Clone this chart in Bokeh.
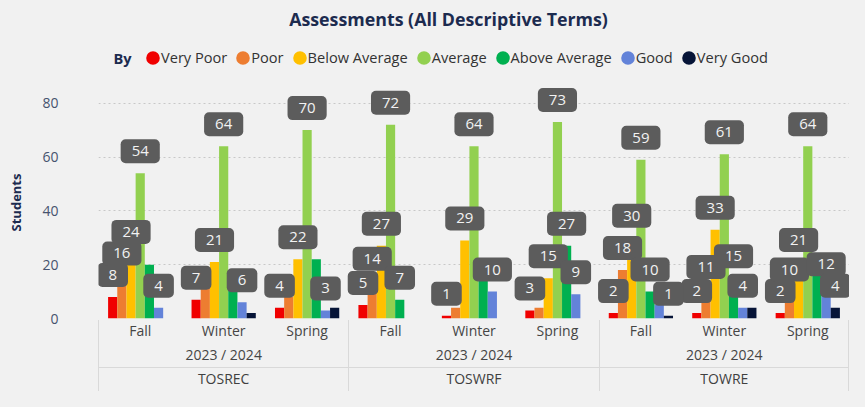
from bokeh.plotting import figure
from bokeh.layouts import column
from bokeh.models import (ColumnDataSource, FactorRange, FixedTicker, Legend, LegendItem,
                          Label)
from bokeh.transform import dodge
from bokeh.core.properties import value
from bokeh.embed import file_html
from bokeh.resources import INLINE

# ---------------- data ----------------
ASSESSMENTS = ["TOSREC", "TOSWRF", "TOWRE"]
SCHOOL_YEAR = "2023 / 2024"
SEASONS = ["Fall", "Winter", "Spring"]
RATINGS = ["Very Poor", "Poor", "Below Average", "Average", "Above Average", "Good", "Very Good"]
COLORS = ["#f00000", "#ed7d31", "#ffc000", "#92d050", "#00b050", "#6383d9", "#061437"]

# one value per (assessment, season): TOSREC F/W/S, TOSWRF F/W/S, TOWRE F/W/S
very_poor = [8, 7, 4, 5, 1, 3, 2, 2, 2]
poor = [16, 12, 8, 14, 4, 4, 18, 11, 10]
below_average = [24, 21, 22, 27, 29, 15, 30, 33, 21]
average = [54, 64, 70, 72, 64, 73, 59, 61, 64]
above_average = [20, 13, 22, 7, 16, 27, 10, 15, 16]
good = [4, 6, 3, 0, 10, 9, 5, 4, 12]
very_good = [0, 2, 4, 0, 0, 0, 1, 4, 4]

# which bars carry a visible data label
T, F = True, False
very_poor_lab = [T, T, T, T, T, T, T, T, T]
poor_lab = [T, F, F, T, F, F, T, T, T]
below_average_lab = [T, T, T, T, T, T, T, T, T]
average_lab = [T, T, T, T, T, T, T, T, T]
above_average_lab = [F, F, F, T, F, T, T, T, F]
good_lab = [T, T, T, F, T, T, F, T, T]
very_good_lab = [F, F, F, F, F, F, T, F, T]

Y_TICKS = [0, 20, 40, 60, 80]

TITLE = "Assessments (All Descriptive Terms)"
LEGEND_TITLE = "By"
Y_LABEL = "Students"

# ---------------- style ----------------
FONT = "Open Sans"
NAVY = "#1c2b4f"
BG = "#f1f1f1"
RULE = "#d9d9d9"
W, H = 849, 391
HEAD_H = 84                              # title + legend strip
M_LEFT, M_TOP, M_BOTTOM = 98, 2, 73
MAIN_H = H - HEAD_H
FRAME_H = MAIN_H - M_TOP - M_BOTTOM
FRAME_W = W - M_LEFT
PX_PER_UNIT = 215.3 / 80                 # 80 students ~ 215 px
Y_MAX = FRAME_H / PX_PER_UNIT
BAR_W = 0.11
LABEL_GAP = 22 / PX_PER_UNIT             # data label centre 22 px above bar top

series = [very_poor, poor, below_average, average, above_average, good, very_good]
labeled = [very_poor_lab, poor_lab, below_average_lab, average_lab,
           above_average_lab, good_lab, very_good_lab]

factors = [(a, SCHOOL_YEAR, s) for a in ASSESSMENTS for s in SEASONS]
x_range = FactorRange(*factors, factor_padding=0, subgroup_padding=0,
                      group_padding=0, range_padding=0)
src = ColumnDataSource(dict(x=factors, **{f"s{i}": v for i, v in enumerate(series)}))

# ---------------- header: title + legend (frame aligned with the chart below) -------------
head = figure(width=W, height=HEAD_H, x_range=x_range, y_range=(-2, -1), title=None,
              output_backend="svg", toolbar_location=None,
              x_axis_location=None, y_axis_location=None,
              min_border_left=M_LEFT, min_border_right=0, min_border_top=0,
              min_border_bottom=0)
head.background_fill_color = None
head.border_fill_color = None
head.outline_line_color = None
head.grid.visible = False

head.add_layout(Label(x=350, y=HEAD_H - 18, x_units="screen", y_units="screen", text=TITLE,
                      text_align="center", text_baseline="middle", text_font=FONT,
                      text_font_size="17.8px", text_font_style="bold", text_color=NAVY))
head.add_layout(Label(x=15, y=HEAD_H - 57, x_units="screen", y_units="screen",
                      text=LEGEND_TITLE, text_align="left", text_baseline="middle",
                      text_font=FONT, text_font_size="14.6px", text_font_style="bold",
                      text_color=NAVY))

# legend glyph renderers: the real values, which lie outside this strip's y range
items = []
for i, (name, color) in enumerate(zip(RATINGS, COLORS)):
    r = head.ellipse(x="x", y=f"s{i}", width=13, height=13, width_units="screen",
                     height_units="screen", source=src,
                     fill_color=color, line_color=None)
    items.append(LegendItem(label=name, renderers=[r]))
legend = Legend(items=items, orientation="horizontal", location=(46, HEAD_H - 67),
                glyph_width=17, glyph_height=17, label_height=20, label_standoff=0,
                spacing=7, padding=0, margin=0, background_fill_alpha=0,
                border_line_color=None, label_text_font=FONT,
                label_text_font_size="14.6px", label_text_color="#333333")
head.add_layout(legend, "center")

# ---------------- main chart ----------------
p = figure(width=W, height=MAIN_H, x_range=x_range, y_range=(0, Y_MAX), title=None,
           output_backend="svg", toolbar_location=None,
           min_border_left=M_LEFT, min_border_right=0,
           min_border_top=M_TOP, min_border_bottom=M_BOTTOM)
p.background_fill_color = None
p.border_fill_color = None
p.outline_line_color = None

for i, color in enumerate(COLORS):
    off = (i - 3) * BAR_W
    p.vbar(x=dodge("x", off, range=p.x_range), top=f"s{i}", width=BAR_W,
           source=src, fill_color=color, line_color=None)

for i, (vals, flags) in enumerate(zip(series, labeled)):
    off = (i - 3) * BAR_W
    xs = [f for f, s in zip(factors, flags) if s]
    vs = [v for v, s in zip(vals, flags) if s]
    lsrc = ColumnDataSource(dict(x=xs, y=[v + LABEL_GAP for v in vs],
                                 text=[str(v) for v in vs]))
    p.text(x=dodge("x", off, range=p.x_range), y="y", text="text", source=lsrc,
           text_align="center", text_baseline="middle",
           text_font=value(FONT), text_font_size="15px", text_color="#f2f2f2",
           background_fill_color="#5c5c5c", padding=(11, 7), border_radius=5)

# x axis (three levels)
xa = p.xaxis[0]
xa.axis_line_color = None
xa.major_tick_line_color = None
xa.minor_tick_line_color = None
xa.major_tick_out = 0
xa.major_label_standoff = 2
xa.major_label_text_font = FONT
xa.major_label_text_font_size = "14px"
xa.major_label_text_color = "#454545"
xa.subgroup_text_font = FONT
xa.subgroup_text_font_size = "14px"
xa.subgroup_text_font_style = "normal"
xa.subgroup_text_color = "#454545"
xa.group_text_font = FONT
xa.group_text_font_size = "14px"
xa.group_text_font_style = "normal"
xa.group_text_color = "#404040"
xa.separator_line_color = RULE
xa.separator_line_width = 1

# y axis
ya = p.yaxis[0]
ya.ticker = FixedTicker(ticks=Y_TICKS)
ya.axis_line_color = None
ya.major_tick_line_color = None
ya.minor_tick_line_color = None
ya.major_tick_out = 0
ya.major_label_standoff = 40
ya.major_label_text_font = FONT
ya.major_label_text_font_size = "14px"
ya.major_label_text_color = "#46536e"
ya.axis_label = Y_LABEL
ya.axis_label_standoff = 14
ya.axis_label_text_font = FONT
ya.axis_label_text_font_size = "13px"
ya.axis_label_text_font_style = "bold"
ya.axis_label_text_color = NAVY

p.xgrid.visible = False
p.ygrid.grid_line_color = "#c8c8c8"
p.ygrid.grid_line_dash = "2 3"

# page background with the box rules of the category axis (behind the transparent plots)
axis_top = HEAD_H + M_TOP + FRAME_H + 2
rule_y = axis_top + 47
rules = []
n = len(ASSESSMENTS)
for k in range(n + 1):
    x = min(round(M_LEFT + k * FRAME_W / n), W - 1)
    rules.append((x, axis_top, 1, H - axis_top))
rules.append((M_LEFT, rule_y, FRAME_W, 1))
grad = f"linear-gradient({RULE}, {RULE})"
styles = {
    "background-color": BG,
    "background-image": ", ".join([grad] * len(rules)),
    "background-size": ", ".join(f"{w}px {h}px" for _, _, w, h in rules),
    "background-position": ", ".join(f"{x}px {y}px" for x, y, _, _ in rules),
    "background-repeat": "no-repeat",
    "box-shadow": f"0 0 0 24px {BG}",
}

page = column(head, p, spacing=0, styles=styles)
open("out.html", "w").write(file_html(page, INLINE, title=TITLE))
